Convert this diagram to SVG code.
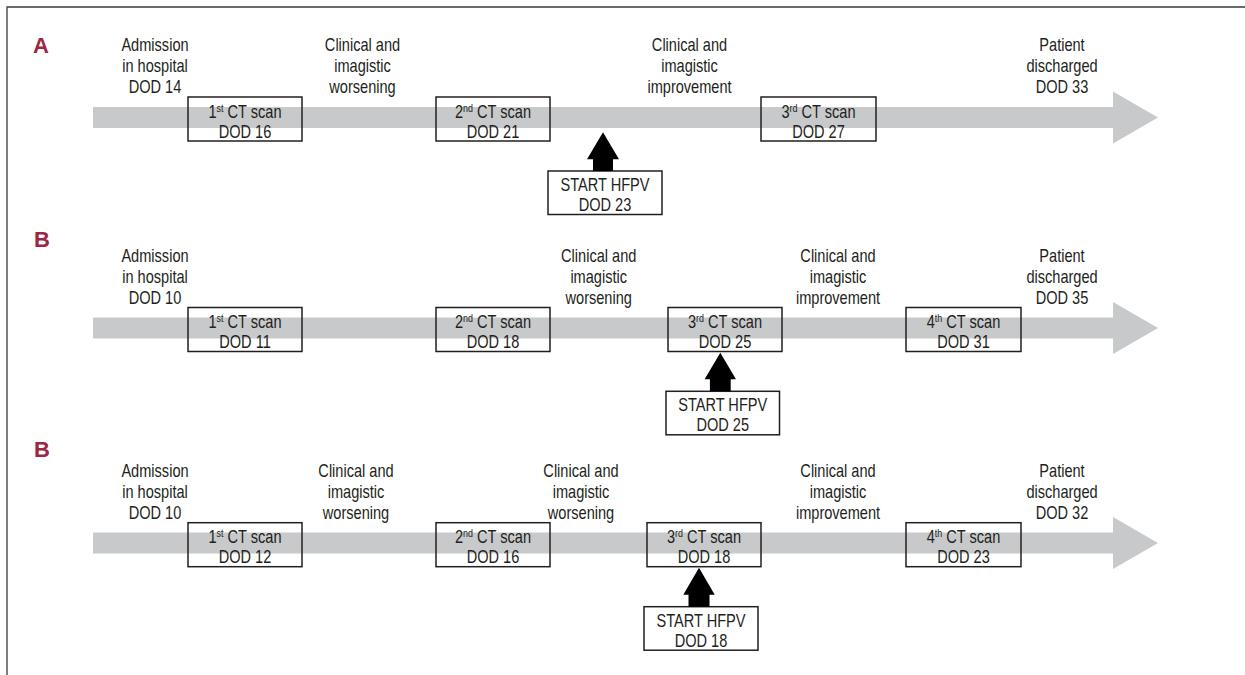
<svg xmlns="http://www.w3.org/2000/svg" width="1245" height="675" viewBox="0 0 1245 675">
<style>
  .t { font-family: "Liberation Sans", Arial, sans-serif; font-size: 18px; fill: #231f20; text-anchor: middle; }
  .sup { font-size: 11px; }
  .lbl { font-family: "Liberation Sans", Arial, sans-serif; font-weight: bold; font-size: 22px; fill: #9b2743; }
  .box { fill: none; stroke: #231f20; stroke-width: 1.5; }
  .hbox { fill: #ffffff; stroke: #231f20; stroke-width: 1.5; }
  .band { fill: #c8c9cb; }
  .arr { fill: #000000; }
</style>
<rect width="1245" height="675" fill="#ffffff"/>
<path d="M7,675 V7 H1245" fill="none" stroke="#3a3a3a" stroke-width="1.3"/>

<g id="timelines">
  <polygon class="band" points="93,107 1113,107 1113,91.5 1158,117.5 1113,143.5 1113,128 93,128"/>
  <polygon class="band" points="93,317.5 1113,317.5 1113,302 1158,328 1113,354 1113,338.5 93,338.5"/>
  <polygon class="band" points="93,532.5 1113,532.5 1113,517 1158,543 1113,569 1113,553.5 93,553.5"/>
</g>

<!-- Panel A -->
<g id="panelA">
  <text id="labelA" class="lbl" x="33" y="53">A</text>
  <g id="A-admission"><text class="t" transform="translate(155,50.7) scale(0.81,1)">Admission</text><text class="t" transform="translate(155,72) scale(0.81,1)">in hospital</text><text class="t" transform="translate(155,93.3) scale(0.81,1)">DOD 14</text></g>
  <g id="A-worsening"><text class="t" transform="translate(362.5,50.7) scale(0.81,1)">Clinical and</text><text class="t" transform="translate(362.5,72) scale(0.81,1)">imagistic</text><text class="t" transform="translate(362.5,93.3) scale(0.81,1)">worsening</text></g>
  <g id="A-improvement"><text class="t" transform="translate(689.5,50.7) scale(0.81,1)">Clinical and</text><text class="t" transform="translate(689.5,72) scale(0.81,1)">imagistic</text><text class="t" transform="translate(689.5,93.3) scale(0.81,1)">improvement</text></g>
  <g id="A-discharged"><text class="t" transform="translate(1062,50.7) scale(0.81,1)">Patient</text><text class="t" transform="translate(1062,72) scale(0.81,1)">discharged</text><text class="t" transform="translate(1062,93.3) scale(0.81,1)">DOD 33</text></g>
  <g id="A-ct1"><rect class="box" x="188" y="97" width="114" height="44"/><text class="t" transform="translate(245,117.5) scale(0.81,1)">1<tspan class="sup" dy="-6">st</tspan><tspan dy="6"> CT scan</tspan></text><text class="t" transform="translate(245,137.5) scale(0.81,1)">DOD 16</text></g>
  <g id="A-ct2"><rect class="box" x="436" y="97" width="114" height="44"/><text class="t" transform="translate(493,117.5) scale(0.81,1)">2<tspan class="sup" dy="-6">nd</tspan><tspan dy="6"> CT scan</tspan></text><text class="t" transform="translate(493,137.5) scale(0.81,1)">DOD 21</text></g>
  <g id="A-ct3"><rect class="box" x="761" y="97" width="115" height="44"/><text class="t" transform="translate(818.5,117.5) scale(0.81,1)">3<tspan class="sup" dy="-6">rd</tspan><tspan dy="6"> CT scan</tspan></text><text class="t" transform="translate(818.5,137.5) scale(0.81,1)">DOD 27</text></g>
  <g id="A-hfpv"><rect class="hbox" x="548" y="171" width="114" height="43.5"/><text class="t" transform="translate(605,191) scale(0.81,1)">START HFPV</text><text class="t" transform="translate(605,211) scale(0.81,1)">DOD 23</text></g>
</g>

<!-- Panel B (first) -->
<g id="panelB1">
  <text id="labelB1" class="lbl" x="34" y="247">B</text>
  <g id="B1-admission"><text class="t" transform="translate(155,261.5) scale(0.81,1)">Admission</text><text class="t" transform="translate(155,282.5) scale(0.81,1)">in hospital</text><text class="t" transform="translate(155,303.7) scale(0.81,1)">DOD 10</text></g>
  <g id="B1-worsening"><text class="t" transform="translate(598.7,261.5) scale(0.81,1)">Clinical and</text><text class="t" transform="translate(598.7,282.5) scale(0.81,1)">imagistic</text><text class="t" transform="translate(598.7,303.7) scale(0.81,1)">worsening</text></g>
  <g id="B1-improvement"><text class="t" transform="translate(838,261.5) scale(0.81,1)">Clinical and</text><text class="t" transform="translate(838,282.5) scale(0.81,1)">imagistic</text><text class="t" transform="translate(838,303.7) scale(0.81,1)">improvement</text></g>
  <g id="B1-discharged"><text class="t" transform="translate(1062,261.5) scale(0.81,1)">Patient</text><text class="t" transform="translate(1062,282.5) scale(0.81,1)">discharged</text><text class="t" transform="translate(1062,303.7) scale(0.81,1)">DOD 35</text></g>
  <g id="B1-ct1"><rect class="box" x="188" y="307.5" width="114" height="44"/><text class="t" transform="translate(245,328) scale(0.81,1)">1<tspan class="sup" dy="-6">st</tspan><tspan dy="6"> CT scan</tspan></text><text class="t" transform="translate(245,348) scale(0.81,1)">DOD 11</text></g>
  <g id="B1-ct2"><rect class="box" x="436" y="307.5" width="114" height="44"/><text class="t" transform="translate(493,328) scale(0.81,1)">2<tspan class="sup" dy="-6">nd</tspan><tspan dy="6"> CT scan</tspan></text><text class="t" transform="translate(493,348) scale(0.81,1)">DOD 18</text></g>
  <g id="B1-ct3"><rect class="box" x="668" y="307.5" width="114" height="44"/><text class="t" transform="translate(725,328) scale(0.81,1)">3<tspan class="sup" dy="-6">rd</tspan><tspan dy="6"> CT scan</tspan></text><text class="t" transform="translate(725,348) scale(0.81,1)">DOD 25</text></g>
  <g id="B1-ct4"><rect class="box" x="906" y="307.5" width="115" height="44"/><text class="t" transform="translate(963.5,328) scale(0.81,1)">4<tspan class="sup" dy="-6">th</tspan><tspan dy="6"> CT scan</tspan></text><text class="t" transform="translate(963.5,348) scale(0.81,1)">DOD 31</text></g>
  <g id="B1-hfpv"><rect class="hbox" x="666" y="391.3" width="113.5" height="43.5"/><text class="t" transform="translate(722.7,411.3) scale(0.81,1)">START HFPV</text><text class="t" transform="translate(722.7,431.3) scale(0.81,1)">DOD 25</text></g>
</g>

<!-- Panel B (second) -->
<g id="panelB2">
  <text id="labelB2" class="lbl" x="34" y="457">B</text>
  <g id="B2-admission"><text class="t" transform="translate(155,476.7) scale(0.81,1)">Admission</text><text class="t" transform="translate(155,498) scale(0.81,1)">in hospital</text><text class="t" transform="translate(155,519.3) scale(0.81,1)">DOD 10</text></g>
  <g id="B2-worsening1"><text class="t" transform="translate(356,476.7) scale(0.81,1)">Clinical and</text><text class="t" transform="translate(356,498) scale(0.81,1)">imagistic</text><text class="t" transform="translate(356,519.3) scale(0.81,1)">worsening</text></g>
  <g id="B2-worsening2"><text class="t" transform="translate(581,476.7) scale(0.81,1)">Clinical and</text><text class="t" transform="translate(581,498) scale(0.81,1)">imagistic</text><text class="t" transform="translate(581,519.3) scale(0.81,1)">worsening</text></g>
  <g id="B2-improvement"><text class="t" transform="translate(838,476.7) scale(0.81,1)">Clinical and</text><text class="t" transform="translate(838,498) scale(0.81,1)">imagistic</text><text class="t" transform="translate(838,519.3) scale(0.81,1)">improvement</text></g>
  <g id="B2-discharged"><text class="t" transform="translate(1062,476.7) scale(0.81,1)">Patient</text><text class="t" transform="translate(1062,498) scale(0.81,1)">discharged</text><text class="t" transform="translate(1062,519.3) scale(0.81,1)">DOD 32</text></g>
  <g id="B2-ct1"><rect class="box" x="188" y="522.7" width="114" height="44"/><text class="t" transform="translate(245,543.2) scale(0.81,1)">1<tspan class="sup" dy="-6">st</tspan><tspan dy="6"> CT scan</tspan></text><text class="t" transform="translate(245,563.2) scale(0.81,1)">DOD 12</text></g>
  <g id="B2-ct2"><rect class="box" x="436" y="522.7" width="114" height="44"/><text class="t" transform="translate(493,543.2) scale(0.81,1)">2<tspan class="sup" dy="-6">nd</tspan><tspan dy="6"> CT scan</tspan></text><text class="t" transform="translate(493,563.2) scale(0.81,1)">DOD 16</text></g>
  <g id="B2-ct3"><rect class="box" x="647" y="522.7" width="114" height="44"/><text class="t" transform="translate(704,543.2) scale(0.81,1)">3<tspan class="sup" dy="-6">rd</tspan><tspan dy="6"> CT scan</tspan></text><text class="t" transform="translate(704,563.2) scale(0.81,1)">DOD 18</text></g>
  <g id="B2-ct4"><rect class="box" x="906" y="522.7" width="115" height="44"/><text class="t" transform="translate(963.5,543.2) scale(0.81,1)">4<tspan class="sup" dy="-6">th</tspan><tspan dy="6"> CT scan</tspan></text><text class="t" transform="translate(963.5,563.2) scale(0.81,1)">DOD 23</text></g>
  <g id="B2-hfpv"><rect class="hbox" x="644" y="606.7" width="114" height="43.5"/><text class="t" transform="translate(701,626.7) scale(0.81,1)">START HFPV</text><text class="t" transform="translate(701,646.7) scale(0.81,1)">DOD 18</text></g>
</g>

<g id="connectors">
  <polygon class="arr" points="603,132.3 619,159.3 613,159.3 613,171 593,171 593,159.3 587,159.3"/>
  <polygon class="arr" points="720.3,352.7 736,379.3 730.7,379.3 730.7,391.3 709.9,391.3 709.9,379.3 704.6,379.3"/>
  <polygon class="arr" points="699,567.7 714.7,594.7 709.5,594.7 709.5,606.7 688.5,606.7 688.5,594.7 683.3,594.7"/>
</g>
</svg>
